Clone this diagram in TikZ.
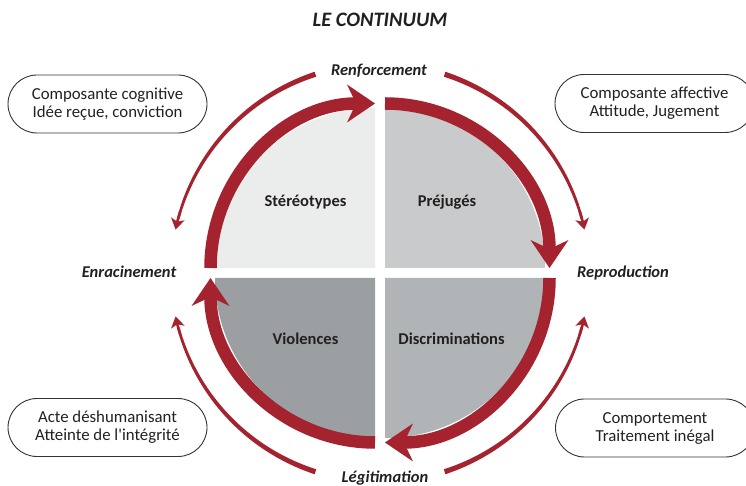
\documentclass[tikz,border=0pt]{standalone}
\usepackage{fontspec}
\setmainfont{Carlito}
\usetikzlibrary{arrows.meta}
\definecolor{cred}{HTML}{A4232F}
\definecolor{qtl}{HTML}{EBECEC}
\definecolor{qtr}{HTML}{C8CACB}
\definecolor{qbr}{HTML}{B1B4B6}
\definecolor{qbl}{HTML}{9B9FA2}
\definecolor{txt}{HTML}{231F20}
\definecolor{boxline}{HTML}{333333}
\begin{document}
\begin{tikzpicture}[x=1pt,y=1pt,
  band/.style={draw=cred, line width=12.5pt, -{Stealth[length=28pt,width=38pt,inset=9pt,line width=0pt]}},
  thinarc/.style={draw=cred, line width=2.6pt, -{Stealth[length=11pt,width=14pt,inset=3pt,line width=0pt]}},
  quadlabel/.style={font=\bfseries\fontsize{16.5}{18}\selectfont, text=txt},
  flowlabel/.style={font=\bfseries\itshape\fontsize{16.5}{18}\selectfont, text=txt},
  infobox/.style={draw=boxline, line width=0.9pt, rounded corners=29pt, minimum width=199pt, minimum height=58pt, align=center, font=\fontsize{16.8}{18}\selectfont, text=txt, inner sep=0pt}
]
\useasboundingbox (0,0) rectangle (746,486);
% corners
\coordinate (ctl) at (375,218);
\coordinate (ctr) at (385,218);
\coordinate (cbl) at (375,208);
\coordinate (cbr) at (385,208);
\coordinate (c) at (380,213);
% quarter discs
\fill[qtl] (ctl) -- ++(-160pt,0) arc[start angle=180,end angle=90,radius=160pt] -- cycle;
\fill[qtr] (ctr) -- ++(0,160pt) arc[start angle=90,end angle=0,radius=160pt] -- cycle;
\fill[qbr] (cbr) -- ++(160pt,0) arc[start angle=0,end angle=-90,radius=160pt] -- cycle;
\fill[qbl] (cbl) -- ++(0,-160pt) arc[start angle=270,end angle=180,radius=160pt] -- cycle;
% thick bands
\draw[band] ([shift={(180:164.5pt)}]ctl) arc[start angle=180,end angle=90,radius=164.5pt];
\draw[band] ([shift={(90:164.5pt)}]ctr) arc[start angle=90,end angle=0,radius=164.5pt];
\draw[band] ([shift={(0:164.5pt)}]cbr) arc[start angle=0,end angle=-90,radius=164.5pt];
\draw[band] ([shift={(270:164.5pt)}]cbl) arc[start angle=270,end angle=180,radius=164.5pt];
% thin outer arcs (tapered body + arrow tip)
\foreach \a/\b in {108/168, 72/12, -72/-12, 252/192}{
  \pgfmathsetmacro{\s}{(\b-\a)/abs(\b-\a)}
  \pgfmathsetmacro{\e}{\b-3*\s}
  \pgfmathsetmacro{\h}{\b-5*\s}
  \fill[cred, shift={(380,213)}]
    plot[domain=\a:\e, samples=40] (\x:{209+(5.2-2.6*(\x-\a)/(\e-\a))/2})
    -- plot[domain=\e:\a, samples=40] (\x:{209-(5.2-2.6*(\x-\a)/(\e-\a))/2}) -- cycle;
  \draw[thinarc] ([shift={(\h:209pt)}]c) arc[start angle=\h,end angle=\b,radius=209pt];
}
% quadrant labels
\node[quadlabel] (ster) at (305.5,284) {Stéréotypes};
\node[quadlabel] (prej) at (447,284) {Préjugés};
\node[quadlabel] (viol) at (305.5,147) {Violences};
\node[quadlabel] (disc) at (451.5,147) {Discriminations};
% flow labels
\node[font=\bfseries\itshape\fontsize{20.5}{22}\selectfont, text=txt] (title) at (380,466) {LE CONTINUUM};
\node[flowlabel] (renf) at (379,415) {Renforcement};
\node[flowlabel] (repr) at (623,213) {Reproduction};
\node[flowlabel] (legi) at (385,8) {Légitimation};
\node[flowlabel] (enra) at (129,214) {Enracinement};
% boxes
\node[infobox] (cog) at (107.5,382) {Composante cognitive\\Idée reçue, conviction};
\node[infobox] (aff) at (654.5,382.5) {Composante affective\\Attitude, Jugement};
\node[infobox] (act) at (107.5,58.5) {Acte déshumanisant\\Atteinte de l\textquotesingle intégrité};
\node[infobox] (comp) at (655,58) {Comportement\\Traitement inégal};
\end{tikzpicture}
\end{document}
